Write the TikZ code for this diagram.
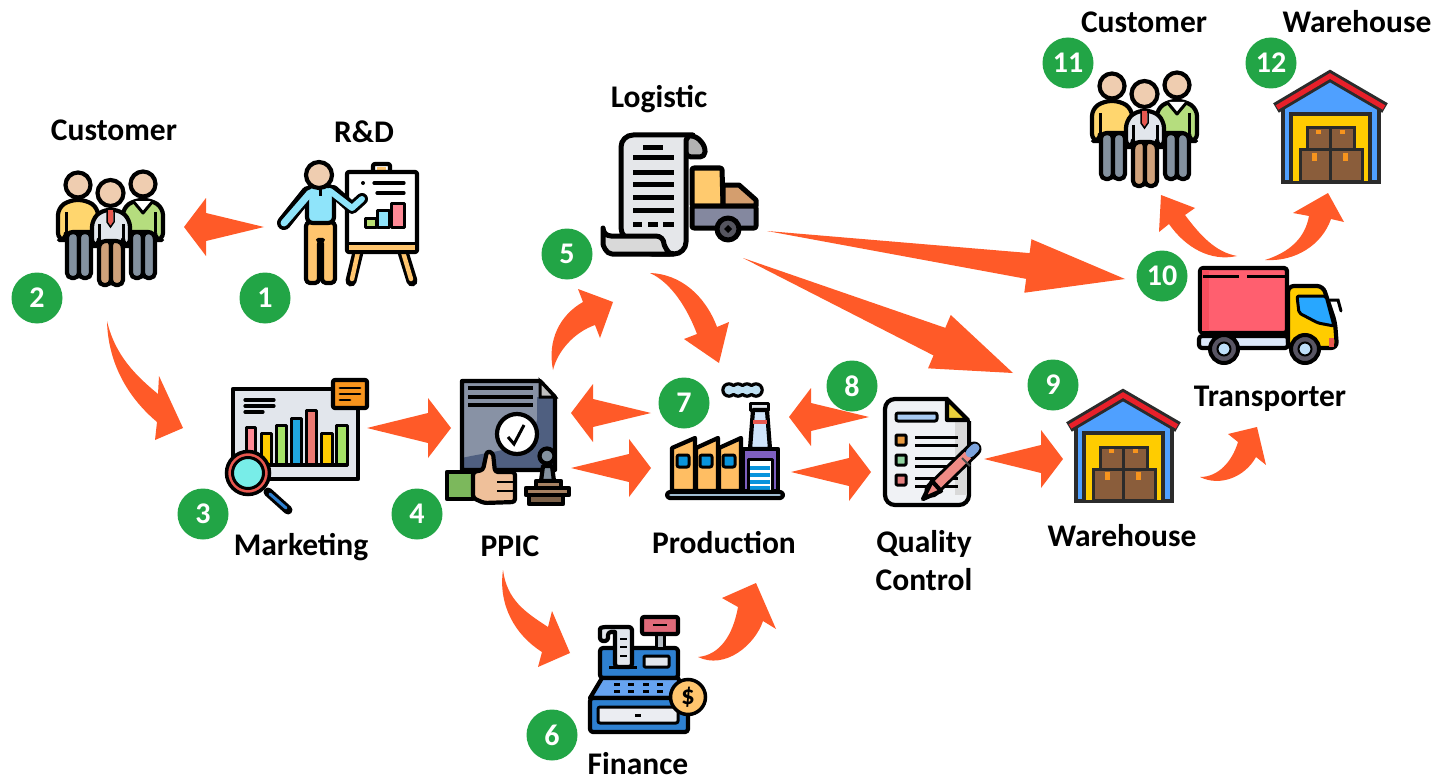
\documentclass[tikz,border=0pt]{standalone}
\usepackage{fontspec}
\setmainfont{Carlito}
\usetikzlibrary{calc}
\definecolor{arrowc}{HTML}{FF5A28}
\definecolor{badgec}{HTML}{22A546}
\definecolor{skin}{HTML}{EFCDB0}
\definecolor{yel}{HTML}{FFD66E}
\definecolor{grn}{HTML}{B5DD7E}
\definecolor{leg}{HTML}{83919F}
\definecolor{shirt}{HTML}{E2E6EC}
\definecolor{brn}{HTML}{CFA17A}
\definecolor{tie}{HTML}{E8584F}
\definecolor{sky}{HTML}{8FE4FA}
\definecolor{pant}{HTML}{FFC56E}
\definecolor{pnk}{HTML}{FF8A96}
\definecolor{lime}{HTML}{B9DF73}
\definecolor{cyn}{HTML}{78EDE8}
\definecolor{org}{HTML}{F7941D}
\definecolor{wblue}{HTML}{4FA0FF}
\definecolor{door}{HTML}{FFCC00}
\definecolor{box}{HTML}{8A5D3B}
\definecolor{dk}{HTML}{2B2B2B}
\definecolor{cash}{HTML}{2E80D0}
\definecolor{pencap}{HTML}{7CA3DC}
\definecolor{vandark}{HTML}{F84E5E}
\definecolor{roof}{HTML}{E8202A}
\definecolor{doclight}{HTML}{8892A5}
\definecolor{docdark}{HTML}{4F5F80}
\definecolor{vanband}{HTML}{DCE9FA}
\definecolor{smoke}{HTML}{BFE0F2}
\tikzset{
  label text/.style={font=\fontsize{31.5}{38}\selectfont\bfseries,text=black,align=center,inner sep=0pt},
  badge/.style={circle,fill=badgec,minimum size=51pt,inner sep=0pt,text=white,font=\fontsize{30}{34}\selectfont\bfseries},
  ic/.style={draw=black,line width=4.2pt,line join=round},
  thin ic/.style={draw=black,line width=3pt,line join=round},
  stroke/.style={draw=black,line width=3.2pt,line cap=round},
  arrowfill/.style={fill=arrowc,draw=none}
}
% straight tapered arrow: tail, tip, head length, head half width, shaft half width
\newcommand{\taperarrow}[5]{%
  \coordinate (mm) at ($(#2)!#3pt!(#1)$);
  \fill[arrowfill] (#1) -- ($(mm)!#5pt!90:(#1)$) -- ($(mm)!#4pt!90:(#1)$) -- (#2)
     -- ($(mm)!#4pt!-90:(#1)$) -- ($(mm)!#5pt!-90:(#1)$) -- cycle;}
% curved tapered arrow: tail and the rest of its outline
\newcommand{\bendarrow}[2]{%
  \fill[arrowfill] (#1) #2 -- cycle;}
\newcommand{\peopleicon}[1]{\begin{scope}[shift={#1}]
  % left person
  \draw[ic,fill=leg,rounded corners=5pt] (67,232) rectangle (79,278);
  \draw[ic,fill=leg,rounded corners=5pt] (79,232) rectangle (91,278);
  \draw[ic,fill=yel,rounded corners=7pt] (58,240) -- (58,208) -- (70,200) -- (86,200) -- (98,208) -- (98,232) -- (66,232) -- (66,240) -- cycle;
  \draw[black,line width=3pt] (66,212) -- (66,232);
  \draw[ic,fill=skin] (78,185) circle (12.5);
  % right person
  \draw[ic,fill=leg,rounded corners=5pt] (131,232) rectangle (143,278);
  \draw[ic,fill=leg,rounded corners=5pt] (143,232) rectangle (155,278);
  \draw[ic,fill=grn,rounded corners=7pt] (163,240) -- (163,208) -- (151,200) -- (135,200) -- (123,208) -- (123,232) -- (155,232) -- (155,240) -- cycle;
  \draw[black,line width=3pt] (155,212) -- (155,232);
  \draw[thin ic,fill=white] (133,201) -- (143,213) -- (153,201);
  \draw[ic,fill=skin] (143,184) circle (12.5);
  % middle person
  \draw[ic,fill=brn,rounded corners=5pt] (99,240) rectangle (111,285);
  \draw[ic,fill=brn,rounded corners=5pt] (111,240) rectangle (123,285);
  \draw[ic,fill=shirt,rounded corners=7pt] (92,246) -- (92,220) -- (102,210) -- (120,210) -- (130,220) -- (130,246) -- (123,246) -- (123,241) -- (99,241) -- (99,246) -- cycle;
  \draw[black,line width=3pt] (99,224) -- (99,241);
  \draw[black,line width=3pt] (123,224) -- (123,241);
  \fill[tie] (108,210) -- (113,210) -- (113,222) -- (110.5,226) -- (108,222) -- cycle;
  \draw[black,line width=1.5pt] (107,210) -- (107,222) -- (110.5,227) -- (114,222) -- (114,210);
  \draw[ic,fill=skin] (110.5,193) circle (13);
\end{scope}}
\newcommand{\houseicon}[1]{\begin{scope}[shift={#1}]
  \fill[wblue] (1076,428) -- (1123,398) -- (1171,428) -- (1171,500) -- (1076,500) -- cycle;
  \draw[dk,line width=3.8pt] (1076,428) -- (1076,501) -- (1172,501) -- (1172,428);
  \draw[dk,fill=door,line width=3.5pt] (1084,500) -- (1084,433) -- (1163,433) -- (1163,500);
  \draw[dk,line width=3pt,fill=box] (1100,447) rectangle (1123,469);
  \draw[dk,line width=3pt,fill=box] (1123,447) rectangle (1147,469);
  \draw[dk,line width=3pt,fill=box] (1093,469) rectangle (1123,500);
  \draw[dk,line width=3pt,fill=box] (1123,469) rectangle (1155,500);
  \fill[org] (1109,449) rectangle (1114,453);
  \fill[org] (1133,449) rectangle (1138,453);
  \fill[org] (1105,472) rectangle (1110,480);
  \fill[org] (1136,472) rectangle (1141,480);
  \draw[dk,line width=11pt,line join=miter] (1069,427) -- (1123,395) -- (1178,427);
  \draw[roof,line width=5pt,line join=miter] (1070,426.5) -- (1123,395) -- (1177,426.5);
\end{scope}}
\begin{document}
\begin{tikzpicture}[x=1pt,y=-1pt]
\useasboundingbox (0,0) rectangle (1435,781);
\fill[white] (0,0) rectangle (1435,781);

% ---------- icons ----------
\peopleicon{(0,0)}
\peopleicon{(1034,-99)}
\houseicon{(0,0)}
\houseicon{(207,-319)}

% R&D
\draw[ic,fill=white,rounded corners=2pt] (373,164) rectangle (390,173);
\fill[pant] (377,167) rectangle (386,172);
\draw[black,line width=11pt,line cap=round] (358,252) -- (351,281);
\draw[pant,line width=4.5pt,line cap=round] (358,252) -- (352,279);
\draw[black,line width=11pt,line cap=round] (403,252) -- (412,281);
\draw[pant,line width=4.5pt,line cap=round] (403,252) -- (411,279);
\draw[ic,fill=white,rounded corners=2pt] (347,172) rectangle (417,252);
\fill[pant] (349,244) rectangle (415,250);
\draw[black,line width=3pt] (347,243) -- (417,243);
\fill (363,183) circle (2);
\draw[stroke] (374,183) -- (404,183);
\draw[stroke] (377,193) -- (404,193);
\draw[thin ic,fill=lime] (365,218) rectangle (376,227);
\draw[thin ic,fill=sky] (377,210) rectangle (389,227);
\draw[thin ic,fill=pnk] (391,203) rectangle (404,227);
\draw[black,line width=14pt,line cap=round,line join=round] (308,193) -- (284,223);
\draw[black,line width=12pt,line cap=round,line join=round] (333,191) -- (352,208) -- (362,199);
\draw[ic,fill=pant,rounded corners=4pt] (306,222) -- (306,283) -- (319,283) -- (319,240) -- (322,240) -- (322,283) -- (335,283) -- (335,222) -- cycle;
\draw[ic,fill=sky,rounded corners=6pt] (307,223) -- (307,186) -- (334,186) -- (334,223) -- cycle;
\draw[sky,line width=7pt,line cap=round] (310,193) -- (284,223);
\draw[sky,line width=6pt,line cap=round,line join=round] (330,191) -- (352,208) -- (362,199);
\draw[black,line width=3pt] (320,186) -- (320,196);
\draw[ic,fill=skin] (319,175) circle (13);

% Marketing
\draw[ic,fill=shirt] (233,389) rectangle (358,479);
\draw[stroke] (245,400) -- (274,400);
\draw[stroke] (245,406) -- (274,406);
\draw[stroke] (245,412) -- (263,412);
\draw[ic,fill=org,rounded corners=2pt] (333,380) rectangle (367,408);
\draw[stroke,line width=2.8pt] (340,388) -- (360,388);
\draw[stroke,line width=2.8pt] (340,394) -- (360,394);
\draw[stroke,line width=2.8pt] (340,400) -- (350,400);
\draw[thin ic,fill=pnk] (246,427) rectangle (255,465);
\draw[thin ic,fill=door] (261,433) rectangle (271,465);
\draw[thin ic,fill=lime!90!green] (276,425) rectangle (286,465);
\draw[thin ic,fill=cash!70!cyan] (291,418) rectangle (301,465);
\draw[thin ic,fill=tie!80!white] (306,410) rectangle (316,465);
\draw[thin ic,fill=door] (321,433) rectangle (332,465);
\draw[thin ic,fill=lime!90!green] (336,425) rectangle (347,465);
\draw[black,line width=3.5pt] (246,465) -- (347,465);
\draw[black,line width=9pt,line cap=round] (268,492) -- (288,510);
\draw[cash,line width=3pt,line cap=round] (270,494) -- (286,508);
\draw[black,fill=tie,line width=3.5pt] (248,473) circle (21.5);
\draw[black,fill=cyn,line width=3pt] (248,473) circle (15.5);

% PPIC
\fill[doclight] (462,381) -- (540,381) -- (555,397) -- (555,470) -- (462,470) -- cycle;
\fill[docdark] (555,397) -- (555,470) -- (462,470) -- (462,458) .. controls (495,450) and (530,452) .. (537,420) -- (537,397) -- cycle;
\draw[ic] (462,381) -- (540,381) -- (555,397) -- (555,470) -- (462,470) -- cycle;
\draw[black,line width=3pt,fill=black!25] (540,381) -- (540,397) -- (555,397) -- cycle;
\draw[stroke,line cap=butt] (468,388) -- (533,388);
\draw[stroke,line cap=butt] (468,397) -- (533,397);
\draw[stroke,line cap=butt] (468,405) -- (533,405);
\draw[ic,fill=white] (517,434) circle (20);
\draw[black,line width=3pt] (508,437) -- (514,444) -- (524,425);
\draw[ic,fill={rgb,255:red,124;green,184;blue,92}] (447,472) rectangle (473,499);
\draw[ic,fill={rgb,255:red,239;green,192;blue,154},rounded corners=3pt] (473,472) -- (483,470) -- (487,451) -- (493,453) -- (495,472) -- (515,472) -- (515,502) -- (484,503) -- (473,498) -- cycle;
\draw[black,line width=2.5pt] (497,482) -- (514,482);
\draw[black,line width=2.5pt] (497,491) -- (514,491);
\draw[ic,fill=leg] (541,481) -- (543,466) -- (552,466) -- (554,481) -- cycle;
\draw[ic,fill=leg] (547,456) circle (7.5);
\draw[ic,fill=brn!80!black] (536,481) rectangle (561,488);
\draw[ic,fill=brn!80!black] (526,488) rectangle (569,495);
\draw[ic,fill=brn!60!black] (529,495) rectangle (563,504);

% Logistic
\draw[ic,line width=5pt,fill=pant!70!yel,rounded corners=2pt] (692,168) -- (722,168) -- (723,206) -- (692,206) -- cycle;
\draw[ic,line width=5pt,fill=brn!90!orange] (723,185) -- (739,185) -- (756,200) -- (756,206) -- (723,206) -- cycle;
\draw[ic,line width=5pt,fill={rgb,255:red,132;green,136;blue,159},rounded corners=2pt] (692,206) -- (756,206) -- (756,228) -- (692,228) -- cycle;
\draw[ic,line width=5pt,fill={rgb,255:red,85;green,85;blue,95}] (728,229) circle (11);
\fill[black] (728,225) -- (732,229) -- (728,233) -- (724,229) -- cycle;
\draw[ic,line width=5pt,fill=black!30,rounded corners=5pt] (684,136) -- (696,136) -- (705,146) -- (705,157) -- (686,157) -- cycle;
\draw[ic,line width=5pt,fill=shirt!50!white!90!gray,rounded corners=12pt] (621,240) -- (621,135) -- (700,135) .. controls (690,135) and (686,140) .. (686,152) -- (686,254) -- (640,254) -- (640,240) -- cycle;
\draw[ic,line width=5pt,fill=black!15,rounded corners=8pt] (603,236) -- (664,236) .. controls (664,245) and (668,253) .. (678,254) -- (620,254) .. controls (606,254) and (603,245) .. (603,236) -- cycle;
\foreach \yy in {158,172,184,197,210} \draw[black,line width=5pt] (633,\yy) -- (674,\yy);
\draw[black,line width=5pt] (643,148) -- (663,148);
\draw[black,line width=5pt] (633,224) -- (642,224);
\draw[black,line width=5pt] (648,224) -- (658,224);
\draw[black,line width=5pt] (663,224) -- (674,224);

% Production
\foreach \xx in {729,738,747,756} \fill[black] (\xx,390) circle (7.8);
\foreach \xx in {729,738,747,756} \fill[smoke] (\xx,390) circle (4.6);
\fill[smoke] (729,387) rectangle (756,393);
\draw[thin ic,fill=shirt] (750,403) rectangle (768,410);
\draw[ic,fill={rgb,255:red,207;green,228;blue,250}] (753,410) -- (767,410) -- (770,449) -- (750,449) -- cycle;
\fill[tie] (753,420) rectangle (767,424);
\draw[ic,fill={rgb,255:red,126;green,95;blue,191}] (743,449) rectangle (778,491);
\draw[thin ic,fill=white] (748,459) rectangle (772,491);
\foreach \yy in {470,477,484,490} \fill[cyan!80!blue] (750,\yy-4) rectangle (770,\yy);
\draw[ic,fill=pant!90!orange] (672,491) -- (672,448) -- (695,438) -- (695,491) -- cycle;
\draw[ic,fill=pant!90!orange] (696,491) -- (696,448) -- (718,438) -- (718,491) -- cycle;
\draw[ic,fill=pant!90!orange] (719,491) -- (719,448) -- (741,438) -- (741,491) -- cycle;
\foreach \xx in {683,706,729} \draw[thin ic,fill=cyan!80!blue,rounded corners=2pt] (\xx-6,455) rectangle (\xx+6,467);
\draw[ic,fill={rgb,255:red,184;green,216;blue,240},rounded corners=3pt] (667,492) rectangle (783,498);

% Quality control
\draw[ic,fill=shirt!50!white,rounded corners=10pt] (948,399) -- (885,399) -- (885,505) -- (969,505) -- (969,421);
\fill[black!15] (955,422) rectangle (967,495);
\draw[ic,fill={rgb,255:red,235;green,208;blue,60}] (947,399) -- (947,420) -- (968,420) -- cycle;
\draw[thin ic,fill={rgb,255:red,169;green,203;blue,243},rounded corners=2pt] (896,413) rectangle (937,421);
\draw[thin ic,fill={rgb,255:red,232;green,154;blue,64},rounded corners=1pt] (896,435) rectangle (906,445);
\draw[thin ic,fill={rgb,255:red,143;green,211;blue,160},rounded corners=1pt] (896,455) rectangle (906,465);
\draw[thin ic,fill={rgb,255:red,229;green,127;blue,127},rounded corners=1pt] (896,475) rectangle (906,485);
\foreach \yy in {437,445,458,466,478,486} \draw[black,line width=3pt] (915,\yy) -- (958,\yy);
\draw[black,line width=15pt,line cap=round] (932,490) -- (974,449);
\draw[tie!70!white,line width=9pt] (932,490) -- (968,455);
\draw[black!70,line width=2pt] (962,458) -- (970,466);
\draw[pencap,line width=9pt,line cap=round] (970,453) -- (975,448);
\draw[ic,fill=tie!70!white] (932,481) -- (941,491) -- (923,499) -- cycle;

% Transporter
\draw[ic,fill={rgb,255:red,255;green,95;blue,111},rounded corners=3pt] (1200,268) rectangle (1287,333);
\fill[vandark] (1202,270) rectangle (1209,331);
\draw[black,line width=3pt] (1203,276) -- (1239,276);
\draw[black,line width=3pt] (1247,276) -- (1285,276);
\draw[ic,fill=vanband,rounded corners=3pt] (1199,336) rectangle (1288,348);
\draw[ic,fill=door,rounded corners=6pt] (1288,286) -- (1323,286) -- (1335,322) -- (1337,348) -- (1288,348) -- cycle;
\draw[thin ic,fill={rgb,255:red,40;green,167;blue,255},rounded corners=2pt] (1297,296) -- (1326,296) -- (1334,326) -- (1318,323) -- (1299,313) -- cycle;
\fill[tie] (1329,338) rectangle (1334,347);
\draw[black,line width=3pt,line cap=round] (1330,300) -- (1338,300) -- (1341,311);
\foreach \xx in {1224,1305} {
  \draw[black,fill={rgb,255:red,88;green,85;blue,99},line width=4pt] (\xx,349) circle (14);
  \draw[black,fill={rgb,255:red,191;green,224;blue,250},line width=2pt] (\xx,349) circle (6.5);
}

% Finance
\draw[ic,fill=cash,rounded corners=3pt] (600,678) -- (600,648) -- (678,648) -- (678,678) -- cycle;
\draw[thin ic,fill=leg!60!white] (656,634) rectangle (664,648);
\draw[ic,fill={rgb,255:red,224;green,106;blue,122},rounded corners=2pt] (642,617) rectangle (678,634);
\draw[black,line width=2.5pt] (653,625) -- (667,625);
\draw[thin ic,fill=shirt,rounded corners=1pt] (644,656) rectangle (669,667);
\draw[ic,fill=shirt,rounded corners=3pt] (600,641) -- (600,632) .. controls (600,627) and (606,627) .. (610,627) -- (632,627) -- (632,667) -- (615,667) -- (615,635) .. controls (615,632) and (612,632) .. (608,632) -- (608,641) -- cycle;
\foreach \yy in {639,647,656} \draw[black,line width=2.5pt] (620,\yy) -- (627,\yy);
\draw[black,line width=3pt] (609,667) -- (637,667);
\draw[ic,fill={rgb,255:red,102;green,163;blue,240}] (590,698) -- (602,678) -- (678,678) -- (688,698) -- cycle;
\foreach \xx in {617,631,646,660} { \draw[black,line width=3pt] (\xx-3,684) -- (\xx+3,684); \draw[black,line width=3pt] (\xx-3,691) -- (\xx+3,691); }
\draw[ic,fill=cash,rounded corners=3pt] (590,698) rectangle (688,732);
\draw[thin ic,fill=shirt!70!white,rounded corners=2pt] (598,707) rectangle (678,723);
\draw[black,line width=3pt] (635,715) -- (641,715);
\node[circle,draw=black,line width=3.5pt,fill=pant,minimum size=35pt,inner sep=0pt,font=\fontsize{27}{28}\selectfont\bfseries] (coin) at (688,697) {\$};

% ---------- labels ----------
\node[label text] (lcust1) at (114,130) {Customer};
\node[label text] (lrd) at (364,132) {R\&D};
\node[label text] (llog) at (659,99) {Logistic};
\node[label text] (lmkt) at (301,547) {Marketing};
\node[label text] (lppic) at (510,546) {PPIC};
\node[label text] (lprod) at (724,543) {Production};
\node[label text] (lqc) at (924,561) {Quality\\Control};
\node[label text] (lwh1) at (1122,536) {Warehouse};
\node[label text] (ltrans) at (1270,399) {Transporter};
\node[label text] (lfin) at (638,764) {Finance};
\node[label text] (lcust2) at (1144,22) {Customer};
\node[label text] (lwh2) at (1357,22) {Warehouse};

% ---------- badges ----------
\node[badge] (b1) at (265,298) {1};
\node[badge] (b2) at (37,298) {2};
\node[badge] (b3) at (203,514) {3};
\node[badge] (b4) at (417,514) {4};
\node[badge] (b5) at (567,254) {5};
\node[badge] (b6) at (552,735) {6};
\node[badge] (b7) at (684,403) {7};
\node[badge] (b8) at (852,386) {8};
\node[badge] (b9) at (1053,385) {9};
\node[badge] (b10) at (1162,276) {10};
\node[badge] (b11) at (1068,63) {11};
\node[badge] (b12) at (1271,63) {12};

% ---------- connector ends ----------
\coordinate (rdT) at (264,227);    \coordinate (custH) at (184,227);
\coordinate (mktT) at (367,428);   \coordinate (ppicH) at (451,428);
\coordinate (prT) at (651,413);    \coordinate (ppicH2) at (571,413);
\coordinate (ppT) at (571,468);    \coordinate (prodH) at (651,468);
\coordinate (qcT) at (869,417);    \coordinate (prodH2) at (789,417);
\coordinate (prT2) at (791,472);   \coordinate (qcH) at (871,472);
\coordinate (qcT2) at (984,459);   \coordinate (whH) at (1063,459);
\coordinate (logT) at (767,231);   \coordinate (trH) at (1125,279);
\coordinate (logT2) at (743,258);  \coordinate (whH2) at (1013,373);

% ---------- straight arrows ----------
\taperarrow{rdT}{custH}{22}{29}{14}
\taperarrow{mktT}{ppicH}{23}{30}{15}
\taperarrow{prT}{ppicH2}{22}{29}{14}
\taperarrow{ppT}{prodH}{22}{29}{14}
\taperarrow{qcT}{prodH2}{22}{29}{14}
\taperarrow{prT2}{qcH}{22}{29}{14}
\taperarrow{qcT2}{whH}{22}{29}{14}
\taperarrow{logT}{trH}{98}{27}{13}
\taperarrow{logT2}{whH2}{80}{29}{15}

% ---------- curved arrows ----------
\coordinate (c2T) at (107,321);
\coordinate (c5T) at (553,370);
\coordinate (c5bT) at (650,273);
\coordinate (c4T) at (503,570);
\coordinate (c6T) at (698,657);
\coordinate (c9T) at (1200,477);
\coordinate (c10T) at (1237,256);
\coordinate (c10bT) at (1265,260);
\bendarrow{c2T}{.. controls (115,355) and (135,375) .. (158,394) -- (159,376) -- (183,428) -- (155,440) -- (157,422) .. controls (125,395) and (108,360) .. (c2T)}
\bendarrow{c5T}{.. controls (547,340) and (560,315) .. (583,302) -- (578,289) -- (613,302) -- (600,338) -- (595,325) .. controls (575,332) and (558,350) .. (c5T)}
\bendarrow{c5bT}{.. controls (680,274) and (705,295) .. (717,327) -- (729,322) -- (719,363) -- (684,339) -- (697,334) .. controls (688,310) and (672,283) .. (c5bT)}
\bendarrow{c4T}{.. controls (507,600) and (525,612) .. (548,627) -- (552,611) -- (570,653) -- (538,667) -- (542,652) .. controls (515,635) and (498,605) .. (c4T)}
\bendarrow{c6T}{.. controls (720,655) and (733,635) .. (738,607) -- (722,598) -- (756,583) -- (776,629) -- (763,621) .. controls (755,645) and (725,670) .. (c6T)}
\bendarrow{c9T}{.. controls (1218,477) and (1232,462) .. (1238,442) -- (1228,434) -- (1257,427) -- (1266,465) -- (1256,457) .. controls (1245,477) and (1220,487) .. (c9T)}
\bendarrow{c10T}{.. controls (1215,252) and (1200,235) .. (1185,215) -- (1195,208) -- (1161,195) -- (1159,232) -- (1169,224) .. controls (1185,247) and (1210,262) .. (c10T)}
\bendarrow{c10bT}{.. controls (1290,252) and (1305,238) .. (1309,216) -- (1293,213) -- (1328,193) -- (1344,222) -- (1331,219) .. controls (1322,245) and (1295,262) .. (c10bT)}
\end{tikzpicture}
\end{document}
